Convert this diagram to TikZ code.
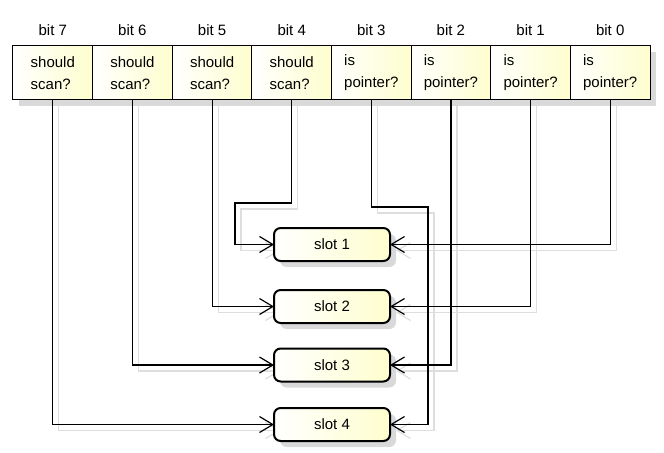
\documentclass[tikz,border=0pt]{standalone}
\usepackage{fontspec}
\setmainfont{Liberation Sans}
\usetikzlibrary{arrows.meta,shadows,backgrounds}
\definecolor{cellyel}{RGB}{254,254,206}
\newcommand\myconnectors[1]{%
  \draw[#1] (b4.south) |- (235,203) |- (s1.west);
  \draw[#1] (b0.south) |- (s1.east);
  \draw[#1] (b5.south) |- (s2.west);
  \draw[#1] (b1.south) |- (s2.east);
  \draw[#1] (b6.south) |- (s3.west);
  \draw[#1] (b2.south) |- (s3.east);
  \draw[#1] (b7.south) |- (s4.west);
  \draw[#1] (b3.south) |- (428,207) |- (s4.east);
}
\begin{document}
\begin{tikzpicture}[x=0.75pt,y=-0.75pt,
  every node/.style={font=\fontsize{11.25}{16.5}\selectfont},
  cell/.style={draw=black, line width=0.75pt, left color=white, right color=cellyel,
    minimum width=59.72pt, minimum height=40.5pt, inner sep=0pt, outer sep=0pt, align=left,
    drop shadow={shadow xshift=4.5pt, shadow yshift=-4.5pt, fill=black!15, opacity=1}},
  slotbox/.style={draw=black, line width=1.5pt, rounded corners=5pt, left color=white, right color=cellyel,
    minimum width=87pt, minimum height=24.75pt, inner sep=0pt, outer sep=0pt,
    drop shadow={shadow xshift=4.5pt, shadow yshift=-4.5pt, fill=black!15, opacity=1}},
  conn/.style={draw=black, line width=0.9pt, -{Straight Barb[length=10pt,width=12pt]}},
  connsh/.style={draw=black!13, line width=0.9pt, -{Straight Barb[length=10pt,width=12pt]}}
]
\useasboundingbox (0,0) rectangle (664,453);
% bit labels
\node (l7) at (52.8,30) {bit 7};
\node (l6) at (132.4,30) {bit 6};
\node (l5) at (212.1,30) {bit 5};
\node (l4) at (291.7,30) {bit 4};
\node (l3) at (371.3,30) {bit 3};
\node (l2) at (450.9,30) {bit 2};
\node (l1) at (530.6,30) {bit 1};
\node (l0) at (610.2,30) {bit 0};
% cells
\node[cell] (b7) at (52.8,73) {should\\scan?};
\node[cell] (b6) at (132.4,73) {should\\scan?};
\node[cell] (b5) at (212.1,73) {should\\scan?};
\node[cell] (b4) at (291.7,73) {should\\scan?};
\node[cell] (b3) at (371.3,73) {is\\pointer?};
\node[cell] (b2) at (450.9,73) {is\\pointer?};
\node[cell] (b1) at (530.6,73) {is\\pointer?};
\node[cell] (b0) at (610.2,73) {is\\pointer?};
% slots
\node[slotbox] (s1) at (332,244.5) {slot 1};
\node[slotbox] (s2) at (332,306.5) {slot 2};
\node[slotbox] (s3) at (332,365) {slot 3};
\node[slotbox] (s4) at (332,424.5) {slot 4};
% connector shadows
\begin{pgfonlayer}{background}
\begin{scope}[transform canvas={xshift=4.5pt,yshift=-4.5pt}]
\myconnectors{connsh}
\end{scope}
\end{pgfonlayer}
% connectors
\myconnectors{conn}
\end{tikzpicture}
\end{document}
